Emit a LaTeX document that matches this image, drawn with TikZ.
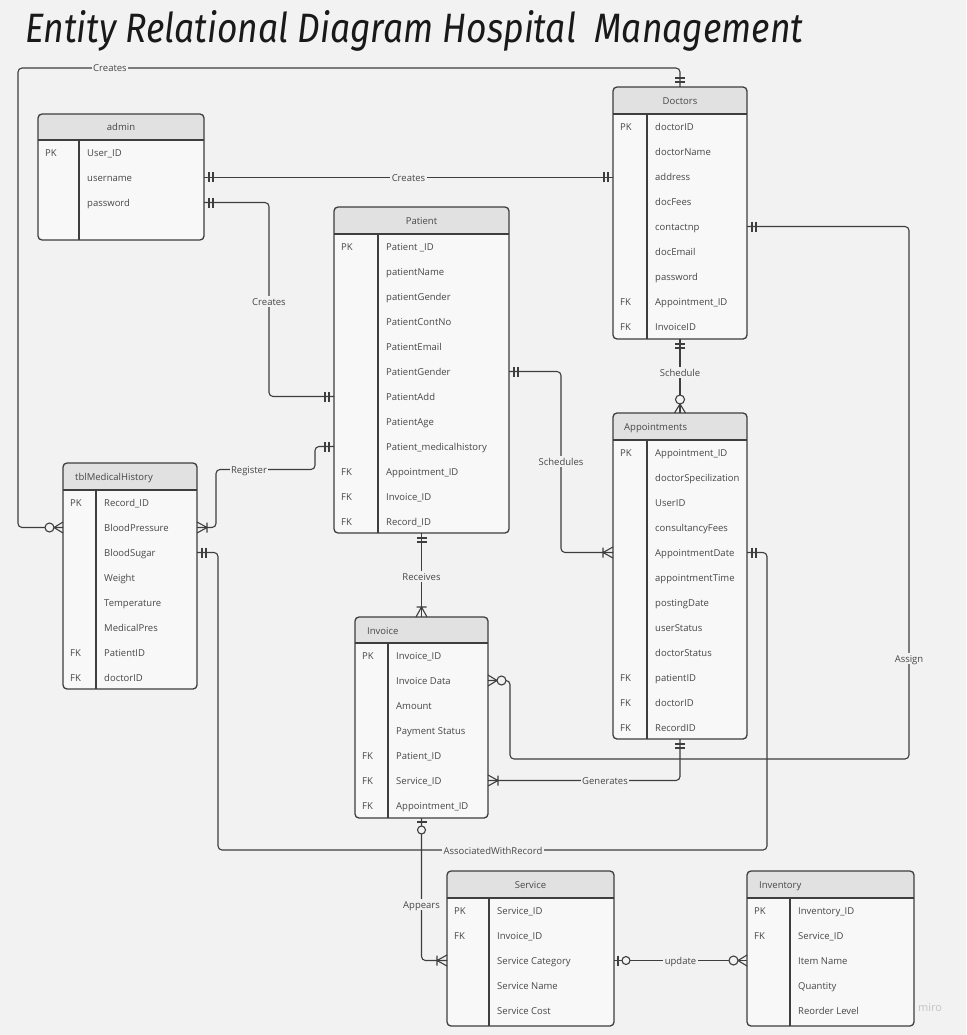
\documentclass[tikz,border=0pt]{standalone}
\usepackage{fontspec}
\usepackage{graphicx}
\newfontfamily\uifont{Open Sans}
\newfontfamily\titlefont{Fira Sans}
\definecolor{bgcol}{HTML}{F2F2F2}
\definecolor{bodyfill}{HTML}{F8F8F8}
\definecolor{headfill}{HTML}{E1E1E1}
\definecolor{lncol}{HTML}{3E3E3E}
\definecolor{txtcol}{HTML}{474747}
\definecolor{wmcol}{HTML}{C4C4C4}

\tikzset{
  tframe/.style={fill=bodyfill, rounded corners=4pt, inner sep=0pt, outer sep=0pt},
  tline/.style={draw=lncol, line width=1.3pt},
  keytext/.style={anchor=west, inner sep=0pt, text height=8pt, text depth=0pt,
    font=\uifont\fontsize{9.5}{11}\selectfont, text=txtcol},
  fieldtext/.style={keytext},
  htitle/.style={inner sep=0pt, text height=8pt, text depth=0pt,
    font=\uifont\fontsize{9.5}{11}\selectfont, text=txtcol},
  conn/.style={draw=lncol, line width=1.1pt, rounded corners=4pt},
  lbl/.style={fill=bgcol, inner sep=1.5pt, text height=8pt, text depth=0pt,
    font=\uifont\fontsize{9.5}{11}\selectfont, text=txtcol},
  mk/.style={draw=lncol, line width=1.1pt},
  % ER cardinality marks, drawn with +x pointing away from the entity
  pics/one/.style={code={\draw[mk] (5,-5) -- (5,5) (9,-5) -- (9,5);}},
  pics/many/.style={code={\draw[mk] (0,-5.5) -- (10,0) -- (0,5.5) (10,-5) -- (10,5);}},
  pics/zmany/.style={code={\draw[mk] (0,-5.5) -- (9,0) -- (0,5.5);
      \draw[mk, fill=bgcol] (13.5,0) circle (4.5pt);}},
  pics/zone/.style={code={\draw[mk] (4,-5) -- (4,5);
      \draw[mk, fill=bgcol] (12,0) circle (4pt);}},
}

% #1 name, #2 left, #3 top, #4 width, #5 height, #6 header height,
% #7 key column width, #8 unused, #9 rows as key/field
\newcommand\ertable[9]{%
  \node[tframe, minimum width=#4pt, minimum height=#5pt, anchor=north west] (#1) at (#2,#3) {};
  \begin{scope}
    \clip[rounded corners=4pt] (#1.north west) rectangle (#1.south east);
    \fill[headfill] (#1.north west) rectangle ([yshift=-#6pt]#1.north east);
  \end{scope}
  \draw[tline] ([yshift=-#6pt]#1.north west) -- ([yshift=-#6pt]#1.north east);
  \draw[tline] ([shift={(#7pt,-#6pt)}]#1.north west) -- ([xshift=#7pt]#1.south west);
  \draw[tline, rounded corners=4pt] (#1.north west) rectangle (#1.south east);
  \foreach \k/\f [count=\i] in {#9} {
    \pgfmathsetmacro\rowy{#3+#6+12.5+25*(\i-1)}
    \node[keytext] (#1-k\i) at ({#2+7},\rowy) {\k};
    \node[fieldtext] (#1-r\i) at ({#2+#7+8},\rowy) {\f};
  }
}

\begin{document}
\begin{tikzpicture}[x=1pt,y=-1pt]
\useasboundingbox (0,0) rectangle (966,1035);
\fill[bgcol] (0,0) rectangle (966,1035);

% heading
\node[anchor=base west, inner sep=0pt, text=black!90] (title) at (25,43)
  {\resizebox{778pt}{32pt}{\titlefont\itshape Entity Relational Diagram Hospital~ Management}};

% entities
\ertable{admin}{38}{114}{166}{126}{26}{41}{}{PK/User\_ID, /username, /password}
\node[htitle] (admin-title) at ([yshift=-13pt]admin.north) {admin};

\ertable{doc}{613}{87}{134}{252}{27}{34}{}{PK/doctorID, /doctorName, /address, /docFees, /contactnp, /docEmail, /password, FK/Appointment\_ID, FK/InvoiceID}
\node[htitle] (doc-title) at ([yshift=-13.5pt]doc.north) {Doctors};

\ertable{pat}{334}{207}{175}{326}{27}{44}{}{PK/Patient \_ID, /patientName, /patientGender, /PatientContNo, /PatientEmail, /PatientGender, /PatientAdd, /PatientAge, /Patient\_medicalhistory, FK/Appointment\_ID, FK/Invoice\_ID, FK/Record\_ID}
\node[htitle] (pat-title) at ([yshift=-13.5pt]pat.north) {Patient};

\ertable{med}{63}{463}{134}{226}{27}{33}{}{PK/Record\_ID, /BloodPressure, /BloodSugar, /Weight, /Temperature, /MedicalPres, FK/PatientID, FK/doctorID}
\node[htitle, anchor=west] (med-title) at ([shift={(12pt,-13.5pt)}]med.north west) {tblMedicalHistory};

\ertable{appt}{613}{413}{134}{326}{27}{34}{}{PK/Appointment\_ID, /doctorSpecilization, /UserID, /consultancyFees, /AppointmentDate, /appointmentTime, /postingDate, /userStatus, /doctorStatus, FK/patientID, FK/doctorID, FK/RecordID}
\node[htitle, anchor=west] (appt-title) at ([shift={(11pt,-13.5pt)}]appt.north west) {Appointments};

\ertable{inv}{355}{617}{133}{201}{26}{33}{}{PK/Invoice\_ID, /Invoice Data, /Amount, /Payment Status, FK/Patient\_ID, FK/Service\_ID, FK/Appointment\_ID}
\node[htitle, anchor=west] (inv-title) at ([shift={(12pt,-13pt)}]inv.north west) {Invoice};

\ertable{serv}{447}{871}{167}{155}{27}{42}{}{PK/Service\_ID, FK/Invoice\_ID, /Service Category, /Service Name, /Service Cost}
\node[htitle] (serv-title) at ([yshift=-13.5pt]serv.north) {Service};

\ertable{invt}{747}{871}{167}{155}{27}{43}{}{PK/Inventory\_ID, FK/Service\_ID, /Item Name, /Quantity, /Reorder Level}
\node[htitle, anchor=west] (invt-title) at ([shift={(12pt,-13.5pt)}]invt.north west) {Inventory};

% relationships
\draw[conn] (med.west |- med-r2) -- ++(-45,0) |- ([yshift=19pt]doc.north) -- (doc.north);
\draw[conn] (admin.east |- admin-r2) -- (doc.west |- admin-r2);
\draw[conn] (admin.east |- admin-r3) -- ++(65,0) |- (pat.west |- pat-r7);
\draw[conn] (med.east |- med-r2) -- ++(19,0) -- ++(0,-58) -- ++(99,0) |- (pat.west |- pat-r9);
\draw[conn] (pat.east |- pat-r6) -- ++(52,0) |- (appt.west |- appt-r5);
\draw[conn] (doc.south) -- (appt.north);
\draw[conn] (doc.east |- doc-r5) -- ++(162,0) -- ++(0,532.5) -- ++(-399,0) |- (inv.east |- inv-r2);
\draw[conn] (appt.east |- appt-r5) -- ++(20,0) |- ++(-549,297.5) |- (med.east |- med-r3);
\draw[conn] (appt.south) |- (inv.east |- inv-r6);
\draw[conn] (pat.south) -- (inv.north);
\draw[conn] (inv.south) |- (serv.west |- serv-r3);
\draw[conn] (serv.east |- serv-r3) -- (invt.west |- serv-r3);

% cardinality marks
\pic[rotate=180] at (med.west |- med-r2) {zmany};
\pic[rotate=90] at (doc.north) {one};
\pic at (admin.east |- admin-r2) {one};
\pic[rotate=180] at (doc.west |- admin-r2) {one};
\pic at (admin.east |- admin-r3) {one};
\pic[rotate=180] at (pat.west |- pat-r7) {one};
\pic at (med.east |- med-r2) {many};
\pic[rotate=180] at (pat.west |- pat-r9) {one};
\pic at (pat.east |- pat-r6) {one};
\pic[rotate=180] at (appt.west |- appt-r5) {many};
\pic[rotate=-90] at (doc.south) {one};
\pic[rotate=90] at (appt.north) {zmany};
\pic at (doc.east |- doc-r5) {one};
\pic at (inv.east |- inv-r2) {zmany};
\pic at (appt.east |- appt-r5) {one};
\pic at (med.east |- med-r3) {one};
\pic[rotate=-90] at (appt.south) {one};
\pic at (inv.east |- inv-r6) {many};
\pic[rotate=-90] at (pat.south) {one};
\pic[rotate=90] at (inv.north) {many};
\pic[rotate=-90] at (inv.south) {zone};
\pic[rotate=180] at (serv.west |- serv-r3) {many};
\pic at (serv.east |- serv-r3) {zone};
\pic[rotate=180] at (invt.west |- serv-r3) {zmany};

% relationship names
\node[lbl] (l-creates1) at (110,68) {Creates};
\node[lbl] (l-creates2) at (408.5,177.5) {Creates};
\node[lbl] (l-creates3) at (269,301) {Creates};
\node[lbl] (l-register) at (249,469.5) {Register};
\node[lbl] (l-schedules) at (561,461) {Schedules};
\node[lbl] (l-schedule) at (680,372) {Schedule};
\node[lbl] (l-assign) at (909,658) {Assign};
\node[lbl] (l-assoc) at (493,850) {AssociatedWithRecord};
\node[lbl] (l-generates) at (605,780.5) {Generates};
\node[lbl] (l-receives) at (421.5,576) {Receives};
\node[lbl] (l-appears) at (421.5,904) {Appears};
\node[lbl] (l-update) at (680.5,960.5) {update};

% watermark
\node[text=wmcol, inner sep=0pt, font=\uifont\fontsize{11}{13}\selectfont] (wm) at (930,1008) {miro};
\end{tikzpicture}
\end{document}
